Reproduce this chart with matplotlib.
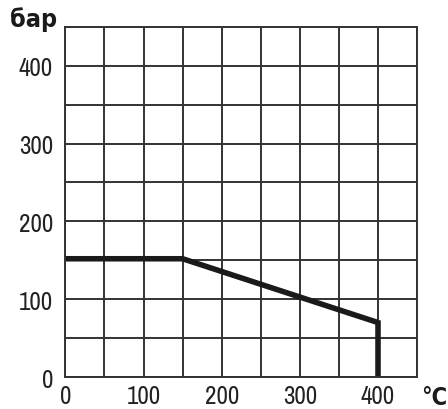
import matplotlib
matplotlib.use('Agg')
import matplotlib.pyplot as plt
from matplotlib import font_manager
import numpy as np

# Pressure vs temperature curve
temp_c = [0, 150, 400, 400]
pressure_bar = [152, 152, 70, 0]

x_ticks = [0, 100, 200, 300, 400]
y_ticks = [0, 100, 200, 300, 400]

names = sorted({f.name for f in font_manager.fontManager.ttflist})
narrow = [n for n in names if 'Narrow' in n or 'Condensed' in n]

plt.rcParams['font.family'] = narrow[:1] + ['DejaVu Sans']
plt.rcParams['font.stretch'] = 'condensed'

fig = plt.figure(figsize=(4.48, 4.10), dpi=100)
ax = fig.add_axes([0.146, 0.078, 0.785, 0.854])

grid_pos = np.arange(0, 451, 50)
ax.set_xlim(0, 450)
ax.set_ylim(0, 450)
ax.set_xticks(grid_pos)
ax.set_yticks(grid_pos)
ax.set_xticklabels([str(v) if v in x_ticks else '' for v in grid_pos])
ax.set_yticklabels([str(v) if v in y_ticks else '' for v in grid_pos])
ax.grid(True, color='#333333', linewidth=1.4)
ax.tick_params(length=0, labelsize=18, colors='#222222')
ax.tick_params(axis='x', pad=5)
ax.tick_params(axis='y', pad=9)
for s in ax.spines.values():
    s.set_color('#333333')
    s.set_linewidth(1.4)

ax.plot(temp_c, pressure_bar, color='#1a1a1a', linewidth=4,
        solid_joinstyle='miter', solid_capstyle='butt', clip_on=False)

bold_font = dict(family=['DejaVu Sans'], stretch='condensed', weight='bold', color='#1a1a1a')
fig.text(0.022, 0.935, 'бар', fontsize=18, **bold_font)
fig.text(0.940, 0.012, '°C', fontsize=17, **bold_font)

fig.savefig('out.png', dpi=100)
